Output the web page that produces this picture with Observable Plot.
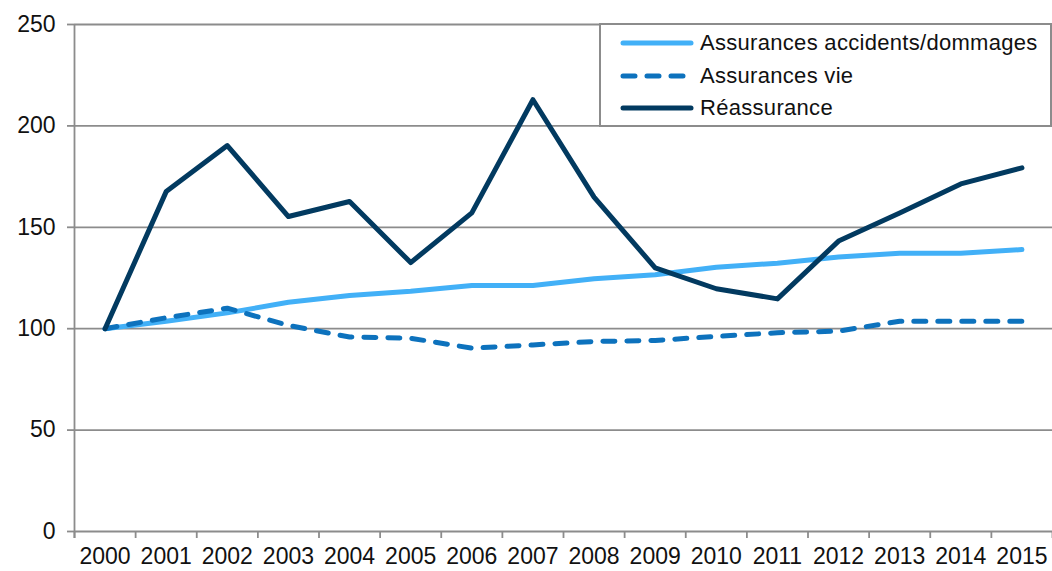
<!DOCTYPE html>
<html><head><meta charset="utf-8">
<script src="https://cdn.jsdelivr.net/npm/d3@7"></script>
<script src="https://cdn.jsdelivr.net/npm/@observablehq/plot@0.6"></script>
<style>
body{margin:0;background:#fff;}
#wrap{position:relative;width:1052px;height:571px;}
#legend{position:absolute;left:599px;top:23px;width:449px;height:100px;border:2px solid #8c8c8c;background:#fff;font-family:"Liberation Sans",Arial,sans-serif;font-size:22px;letter-spacing:0.3px;color:#111;}
.row{position:absolute;left:0;height:30px;width:100%;}
.row svg{position:absolute;left:18px;top:10px;}
.row span{position:absolute;left:99px;top:2px;white-space:nowrap;}
</style></head><body><div id="wrap"><div id="legend"></div></div>
<script>
const years = [2000,2001,2002,2003,2004,2005,2006,2007,2008,2009,2010,2011,2012,2013,2014,2015];
const accidents = [100,103.7,107.8,113,116.4,118.5,121.3,121.3,124.6,126.6,130.3,132.3,135.3,137.2,137.2,139];
const vie = [100,105.4,110.1,101.6,95.9,95.3,90.4,92,93.7,94.2,96.2,98,98.8,103.7,103.7,103.7];
const reassurance = [100,167.6,190.3,155.3,162.7,132.6,157.1,212.9,164.9,130,119.7,114.7,143.2,157.1,171.4,179.3];
const seriesNames = ["Assurances accidents/dommages","Assurances vie","Réassurance"];
const seriesColors = ["#42b0f7","#0d72bd","#023a60"];
const seriesDash = [null,"12,12",null];
const yTicks = [0,50,100,150,200,250];

const seriesValues = [accidents, vie, reassurance];
const rows = seriesNames.map((name,k)=>years.map((yr,i)=>({year:yr, value:seriesValues[k][i], series:name})));
const boundaries = years.map(y=>y-0.5).concat([years[years.length-1]+0.5]);
const grey = "#8c8c8c";

const lineMarks = rows.map((data,k)=>Plot.lineY(data,{
  x:"year", y:"value", stroke:seriesColors[k], strokeWidth:5,
  strokeDasharray:seriesDash[k] || undefined, strokeLinecap:"round", strokeLinejoin:"round"
}));

const plot = Plot.plot({
  width:1052, height:571, marginLeft:74, marginRight:0, marginTop:24, marginBottom:40,
  style:{fontFamily:"'Liberation Sans', Arial, sans-serif", fontSize:"23px", color:"#111", background:"#fff"},
  x:{type:"linear", domain:[years[0]-0.5, years[years.length-1]+0.5]},
  y:{domain:[0,250]},
  marks:[
    Plot.ruleY(yTicks,{stroke:grey, strokeWidth:1.8}),
    Plot.axisY({ticks:yTicks, tickSize:7, tickPadding:12, stroke:grey, strokeWidth:1.8, label:null, fill:"#111"}),
    Plot.ruleX([years[0]-0.5],{stroke:grey, strokeWidth:1.8, insetBottom:-7}),
    Plot.axisX({ticks:boundaries, tickSize:7, tickFormat:()=>"", stroke:grey, strokeWidth:1.8, label:null}),
    Plot.axisX({ticks:years, tickSize:0, tickPadding:16, tickFormat:d=>String(d), label:null, fill:"#111"}),
    ...lineMarks
  ]
});
document.getElementById("wrap").prepend(plot);

const legend = document.getElementById("legend");
seriesNames.forEach((name,k)=>{
  const row = document.createElement("div");
  row.className = "row";
  row.style.top = (3 + k*32.5) + "px";
  const dash = seriesDash[k] ? `stroke-dasharray="${seriesDash[k]}"` : "";
  row.innerHTML = `<svg width="76" height="10"><line x1="4" y1="5" x2="72" y2="5" stroke="${seriesColors[k]}" stroke-width="5" stroke-linecap="round" ${dash}/></svg><span>${name}</span>`;
  legend.appendChild(row);
});
</script>
</body></html>
